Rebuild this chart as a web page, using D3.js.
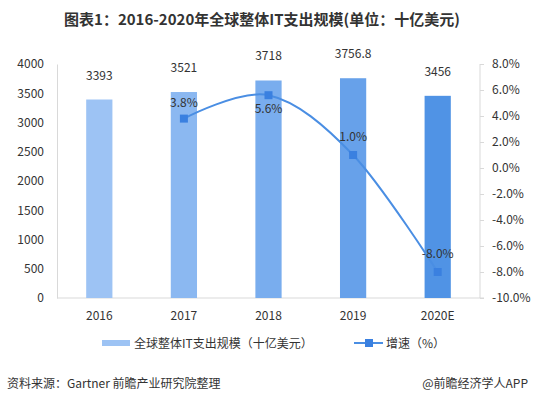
<!DOCTYPE html>
<html><head><meta charset="utf-8">
<script src="https://cdn.jsdelivr.net/npm/d3@7"></script>
<style>
body{margin:0;background:#fff;}
text{font-family:"Microsoft YaHei","Noto Sans CJK SC",sans-serif;}
</style></head>
<body><svg id="c" width="534" height="397"></svg>
<script>
const categories = ["2016","2017","2018","2019","2020E"];
const spending = [3393,3521,3718,3756.8,3456];
const growth = [null,3.8,5.6,1.0,-8.0];
const growthLabels = ["","3.8%","5.6%","1.0%","-8.0%"];
const leftTicks = [0,500,1000,1500,2000,2500,3000,3500,4000];
const rightTicks = [-10,-8,-6,-4,-2,0,2,4,6,8];
const barColors = ["#9dc3f4","#8bb8f1","#79adee","#67a1ea","#5093e5"];

const svg = d3.select("#c");
const L = 57, R = 480, T = 64, B = 298;
const x = d3.scaleBand().domain(categories).range([L,R]).paddingInner(0.69).paddingOuter(0.345);
const yL = d3.scaleLinear().domain([0,4000]).range([B,T]);
const yR = d3.scaleLinear().domain([-10,8]).range([B,T]);

// title
svg.append("text").attr("x",262).attr("y",25).attr("text-anchor","middle")
  .attr("font-size",15).attr("font-weight","bold").attr("fill","#333")
  .text("图表1：2016-2020年全球整体IT支出规模(单位：十亿美元)");

// left axis
const gL = svg.append("g").attr("transform",`translate(${L},0)`)
  .call(d3.axisLeft(yL).tickValues(leftTicks).tickSize(0).tickPadding(13).tickFormat(d=>String(d)));
gL.select(".domain").attr("stroke","#d9d9d9");
gL.selectAll("text").attr("font-size",12).attr("fill","#333").attr("font-family","Microsoft YaHei, Noto Sans CJK SC, sans-serif");

// right axis
const gR = svg.append("g").attr("transform",`translate(${R},0)`)
  .call(d3.axisRight(yR).tickValues(rightTicks).tickSize(4).tickPadding(8).tickFormat(d=>d.toFixed(1)+"%"));
gR.select(".domain").attr("stroke","#d9d9d9").attr("d",`M0,${T}V${B}`);
gR.selectAll("line").attr("stroke","#d9d9d9");
gR.selectAll("text").attr("font-size",12).attr("fill","#333").attr("font-family","Microsoft YaHei, Noto Sans CJK SC, sans-serif");

// bottom axis
const gB = svg.append("g").attr("transform",`translate(0,${B})`)
  .call(d3.axisBottom(x).tickSize(0).tickPadding(13));
gB.select(".domain").attr("stroke","#d9d9d9").attr("d",`M${L},0H${R+4}`);
gB.selectAll("text").attr("font-size",12).attr("fill","#333").attr("font-family","Microsoft YaHei, Noto Sans CJK SC, sans-serif");

// bars
svg.append("g").selectAll("rect").data(spending).join("rect")
  .attr("x",(d,i)=>x(categories[i])).attr("width",x.bandwidth())
  .attr("y",d=>yL(d)).attr("height",d=>B-yL(d))
  .attr("fill",(d,i)=>barColors[i]);
svg.append("g").selectAll("text").data(spending).join("text")
  .attr("x",(d,i)=>x(categories[i])+x.bandwidth()/2).attr("y",d=>yL(d)-20)
  .attr("text-anchor","middle").attr("font-size",12).attr("fill","#333")
  .text(d=>String(d));

// line
const pts = growth.map((g,i)=>({g,i})).filter(d=>d.g!==null);
const cx = i => x(categories[i])+x.bandwidth()/2;
svg.append("path").datum(pts)
  .attr("d",d3.line().x(d=>cx(d.i)).y(d=>yR(d.g)).curve(d3.curveCardinal.tension(0)))
  .attr("fill","none").attr("stroke","#4a8ee3").attr("stroke-width",2);
svg.append("g").selectAll("rect").data(pts).join("rect")
  .attr("x",d=>cx(d.i)-4).attr("y",d=>yR(d.g)-4).attr("width",8).attr("height",8)
  .attr("fill","#3a80e0");
const labelOff = {1:-12, 2:18, 3:-14, 4:-14};
svg.append("g").selectAll("text").data(pts).join("text")
  .attr("x",d=>cx(d.i)).attr("y",d=>yR(d.g)+labelOff[d.i])
  .attr("text-anchor","middle").attr("font-size",12).attr("fill","#333")
  .text(d=>growthLabels[d.i]);

// legend
svg.append("rect").attr("x",102).attr("y",340).attr("width",28).attr("height",6).attr("fill","#9dc3f4");
svg.append("text").attr("x",134).attr("y",348).attr("font-size",12).attr("fill","#333").text("全球整体IT支出规模（十亿美元）");
svg.append("line").attr("x1",354).attr("x2",383).attr("y1",343).attr("y2",343).attr("stroke","#4a8ee3").attr("stroke-width",2);
svg.append("rect").attr("x",365).attr("y",339).attr("width",8).attr("height",8).attr("fill","#3a80e0");
svg.append("text").attr("x",386).attr("y",348).attr("font-size",12).attr("fill","#333").text("增速（%）");

// footer
svg.append("text").attr("x",7).attr("y",388).attr("font-size",12).attr("fill","#333").text("资料来源：Gartner 前瞻产业研究院整理");
svg.append("text").attr("x",528).attr("y",388).attr("text-anchor","end").attr("font-size",12).attr("fill","#333").text("@前瞻经济学人APP");
</script></body></html>
